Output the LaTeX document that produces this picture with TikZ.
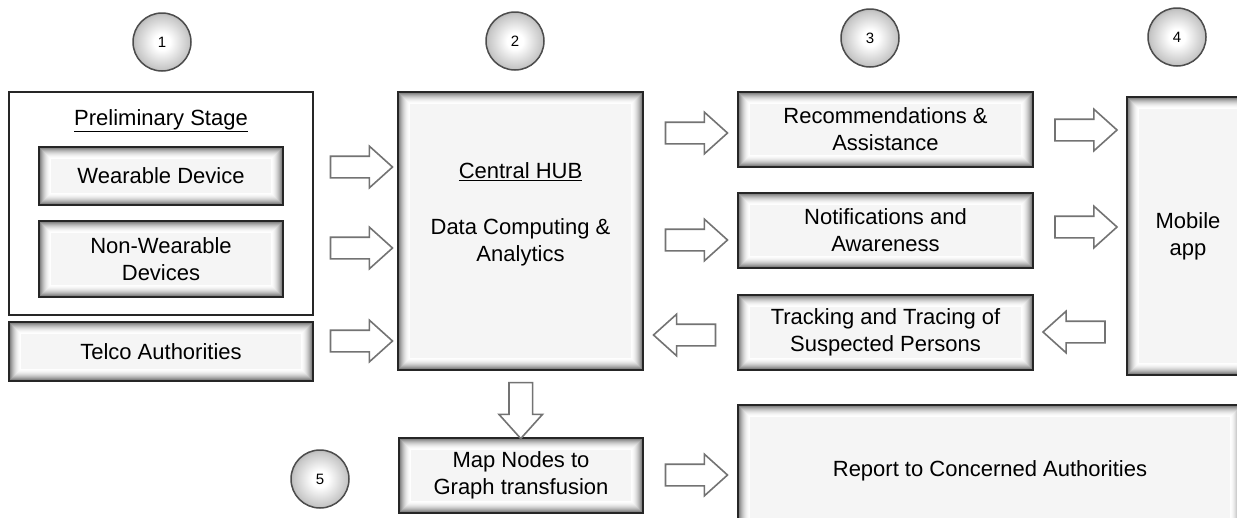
\documentclass[tikz,border=0pt]{standalone}
\usepackage{fontspec}
\setmainfont{Liberation Sans}
\usepackage{tikz}
\usetikzlibrary{positioning}
\usetikzlibrary{shapes.arrows}
\usetikzlibrary{calc}
\pgfdeclareradialshading{ballglow}{\pgfpoint{0bp}{0bp}}{color(0bp)=(white); color(7bp)=(white); color(23bp)=(black!22); color(35bp)=(black!58); color(50bp)=(black!58)}
\tikzstyle{glowbox}=[draw=black!85, line width=1.6pt, fill=black!4, align=center, inner sep=0pt, font=\fontsize{22}{27}\selectfont,
  path picture={\foreach \k [evaluate=\k as \tone using 66*(1-\k/13)^2, evaluate=\k as \off using \k-0.5] in {1,...,12}
      \draw[black!\tone, line width=1.1pt] ([shift={(\off pt,-\off pt)}]path picture bounding box.north west) rectangle ([shift={(-\off pt,\off pt)}]path picture bounding box.south east);}]
\tikzstyle{stepball}=[circle, draw=black!70, line width=1.5pt, shading=ballglow, minimum size=58pt, inner sep=0pt, font=\fontsize{15}{18}\selectfont]
\tikzstyle{rarrow}=[single arrow, draw=black!55, line width=1.6pt, fill=white, minimum height=62pt, single arrow head extend=10pt, single arrow tip angle=84, inner xsep=0pt, inner ysep=10pt]
\tikzstyle{larrow}=[rarrow, shape border rotate=180]
\tikzstyle{darrow}=[rarrow, rotate=-90, inner ysep=11pt, minimum height=56pt]
\tikzstyle{label} = [font=\fontsize{22}{27}\selectfont, align=center]

\begin{document}
\begin{tikzpicture}[x=1pt, y=-1pt]

  \useasboundingbox[fill=white] (0,0) rectangle (1237,517);

  \foreach \pos/\name/\num in {{(162,42)/one/1}, {(515,41)/two/2}, {(870,38)/three/3}, {(1177,37)/four/4}, {(320,479)/five/5}}
      \node[stepball] (\name) at \pos {\num};

  % preliminary stage
  \node[draw=black!85, line width=1.6pt, minimum width=304pt, minimum height=223pt] (prelim) at (161,203.5) {};
  \node[label] (stagetitle) at (161,121) {\underline{Preliminary Stage}};
  \node[glowbox, minimum width=244pt, minimum height=58pt] (wear) at (161,176) {Wearable Device};
  \node[glowbox, minimum width=244pt, minimum height=76pt] (nonwear) at (161,259) {Non-Wearable\\Devices};
  \node[glowbox, minimum width=304pt, minimum height=59pt] (telco) at (161,351.5) {Telco Authorities};

  % hub
  \node[glowbox, minimum width=245pt, minimum height=278pt] (hub) at (520.5,231) {};
  \node[label] (hubtitle) at (520.5,172) {\underline{Central HUB}};
  \node[label] (hubtext) at (520.5,242.5) {Data Computing \&\\Analytics};
  \node[glowbox, minimum width=244pt, minimum height=75pt] (map) at (521,475.5) {Map Nodes to\\Graph transfusion};

  \node[glowbox, minimum width=295pt, minimum height=75pt] (recs) at (885.5,129.5) {Recommendations \&\\Assistance};
  \node[glowbox, minimum width=295pt, minimum height=75pt] (notif) at (885.5,230.5) {Notifications and\\Awareness};
  \node[glowbox, minimum width=295pt, minimum height=75pt] (track) at (885.5,332.5) {Tracking and Tracing of\\Suspected Persons};
  \node[glowbox, minimum width=122pt, minimum height=278pt] (mobile) at (1188,236) {Mobile\\app};
  \node[glowbox, minimum width=504pt, minimum height=132pt] (report) at (990,471) {Report to Concerned Authorities};

  \foreach \source/\dest/\row in {prelim/hub/167, prelim/hub/248, telco/hub/341, hub/recs/133, hub/notif/240, recs/mobile/130, notif/mobile/227, map/report/475}
      \path (\source.east |- 0,\row) -- node[rarrow] {} (\dest.west |- 0,\row);

  \foreach \source/\dest/\row in {mobile/track/332, track/hub/335}
      \path (\source.west |- 0,\row) -- node[larrow] {} (\dest.east |- 0,\row);

  \path (hub.south) -- node[darrow] {} (map.north);

\end{tikzpicture}
\end{document}
